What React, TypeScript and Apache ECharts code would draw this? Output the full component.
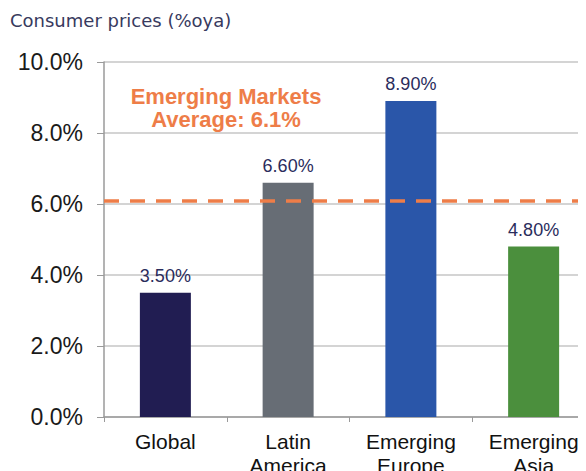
import React, { useEffect, useRef } from "react";
import * as echarts from "echarts";

const categories = ["Global", "Latin\nAmerica", "Emerging\nEurope", "Emerging\nAsia"];
const values = [3.5, 6.6, 8.9, 4.8];
const barColors = ["#211d52", "#676d75", "#2a56a9", "#4b8f3d"];
const emAverage = 6.1;
const yTicks = [0, 2, 4, 6, 8, 10];

export default function App() {
  const ref = useRef<HTMLDivElement>(null);
  useEffect(() => {
    if (!ref.current) return;
    const chart = echarts.init(ref.current, null, { renderer: "svg" });
    const font = "'Liberation Sans', Arial, sans-serif";
    chart.setOption({
      animation: false,
      title: {
        text: "Consumer prices (%oya)",
        left: 2,
        top: 3,
        padding: 0,
        textStyle: { fontFamily: "'DejaVu Sans', sans-serif", fontSize: 18, fontWeight: "normal", color: "#383a5e" },
      },
      grid: { left: 96, top: 54, width: 491, height: 355, containLabel: false, outerBoundsMode: "none" },
      xAxis: {
        type: "category",
        data: categories,
        axisLine: { lineStyle: { color: "#9a9a9a", width: 1.5 } },
        axisTick: { show: true, alignWithLabel: false, length: 5, lineStyle: { color: "#9a9a9a" } },
        axisLabel: { fontFamily: font, fontSize: 21, color: "#111", margin: 12, lineHeight: 24 },
      },
      yAxis: {
        type: "value",
        min: yTicks[0],
        max: yTicks[yTicks.length - 1],
        interval: 2,
        axisLine: { show: true, lineStyle: { color: "#9a9a9a", width: 1.5 } },
        axisTick: { show: true, length: 7, lineStyle: { color: "#9a9a9a" } },
        splitLine: { lineStyle: { color: "#c6c6c6", width: 1.5 } },
        axisLabel: {
          fontFamily: font,
          fontSize: 23,
          color: "#1a1a1a",
          margin: 21,
          formatter: (v: number) => v.toFixed(1) + "%",
        },
      },
      series: [
        {
          type: "bar",
          barWidth: 51,
          data: values.map((v, i) => ({ value: v, itemStyle: { color: barColors[i] } })),
          label: {
            show: true,
            position: "top",
            distance: 8,
            fontFamily: font,
            fontSize: 18,
            color: "#2a2c5c",
            formatter: (p: any) => p.value.toFixed(2) + "%",
          },
          markLine: {
            silent: true,
            symbol: "none",
            label: { show: false },
            lineStyle: { color: "#ee7d48", width: 3.5, type: [15, 11] },
            data: [{ yAxis: emAverage }],
          },
        },
      ],
      graphic: [
        {
          type: "text",
          x: 218,
          y: 77,
          style: {
            text: "Emerging Markets\nAverage: " + emAverage.toFixed(1) + "%",
            fontFamily: font,
            fontSize: 22,
            fontWeight: "bold",
            fill: "#ee7d48",
            align: "center",
            verticalAlign: "top",
            lineHeight: 23,
          },
        },
      ],
    });
    return () => chart.dispose();
  }, []);
  return <div ref={ref} style={{ width: 578, height: 463 }} />;
}
